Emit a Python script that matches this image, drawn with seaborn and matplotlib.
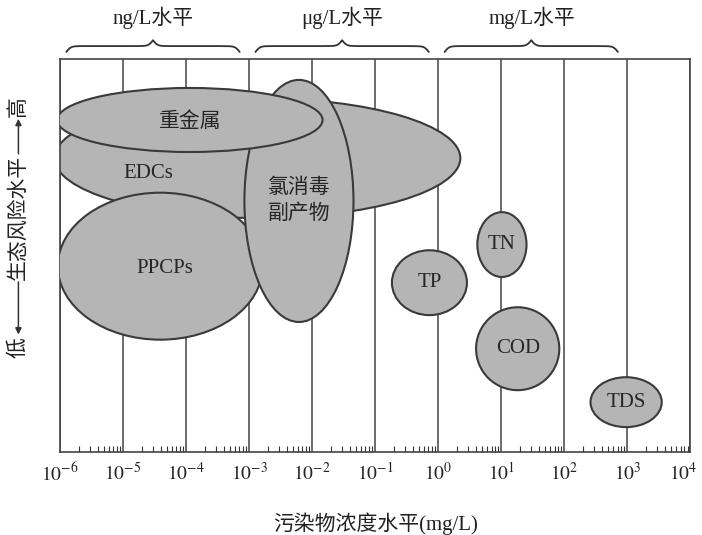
import numpy as np
import matplotlib
matplotlib.use('Agg')
import matplotlib.pyplot as plt
import matplotlib.transforms as mtransforms
from matplotlib.patches import Ellipse
import seaborn as sns

# 各类污染物: 浓度范围 (log10 mg/L 中心与跨度) 和 生态风险水平 (0-100 相对值)
names = ['EDCs', 'PPCPs', '氯消毒\n副产物', '重金属', 'TP', 'TN', 'COD', 'TDS']
conc_center = [-2.87, -4.41, -2.21, -3.94, -0.14, 1.01, 1.26, 2.98]
conc_span = [6.44, 3.25, 1.73, 4.21, 1.19, 0.78, 1.32, 1.13]
risk_center = [74.8, 47.3, 63.9, 84.5, 43.1, 52.8, 26.3, 12.7]
risk_span = [30.5, 37.4, 61.6, 16.3, 16.5, 16.5, 21.1, 12.7]

# 浓度水平分组
levels = ['ng/L水平', 'μg/L水平', 'mg/L水平']
level_lo = [-6, -3, 0]
level_hi = [-3, 0, 3]

decades = list(range(-6, 5))

sns.set_theme(style='white')
plt.rcParams['font.family'] = ['Liberation Serif', 'Noto Sans CJK SC']
plt.rcParams['mathtext.fontset'] = 'stix'

fig = plt.figure(figsize=(7.02, 5.35), dpi=100)
ax = fig.add_axes([0.0855, 0.155, 0.898, 0.7346])

edge = '#3a3a3a'
face = '#b5b5b5'

# label offsets (in data units) for the big ellipses
label_shift = {'EDCs': (-1.73, -3.8), 'PPCPs': (0.08, -0.5), '重金属': (0, -0.5)}

for i, nm in enumerate(names):
    e = Ellipse((conc_center[i], risk_center[i]), conc_span[i], risk_span[i],
                facecolor=face, edgecolor=edge, lw=1.5, zorder=2 + i)
    ax.add_patch(e)
    dx, dy = label_shift.get(nm, (0, 0))
    ax.text(conc_center[i] + dx, risk_center[i] + dy, nm, ha='center', va='center',
            fontsize=15, color='#262626', zorder=20, linespacing=1.45)

ax.set_xlim(-6, 4)
ax.set_ylim(0, 100)
ax.set_yticks([])
ax.set_xticks(decades)
ax.set_xticklabels([f'$10^{{{d}}}$' for d in decades], fontsize=14, color='#222')
minor = [d + np.log10(k) for d in decades[:-1] for k in range(2, 10)]
ax.set_xticks(minor, minor=True)
ax.tick_params(axis='x', which='major', length=0, pad=7)
ax.tick_params(axis='x', which='minor', direction='in', length=4, width=0.8,
               color='#333', bottom=True)
ax.grid(axis='x', color='#444', lw=1.1)
ax.grid(axis='y', visible=False)
ax.set_axisbelow(True)
for s in ax.spines.values():
    s.set_color('#444')
    s.set_linewidth(1.2)

# nudge last tick label so it stays inside the figure
last = ax.get_xticklabels()[-1]
last.set_transform(last.get_transform()
                   + mtransforms.ScaledTranslation(-5 / 72, 0, fig.dpi_scale_trans))

ax.set_xlabel('污染物浓度水平(mg/L)', fontsize=15, labelpad=20, color='#222')

# braces on top
trans = mtransforms.blended_transform_factory(ax.transData, ax.transAxes)


def brace(x0, x1, y0, h, b=28):
    xm = (x0 + x1) / 2
    xs = np.linspace(x0, xm, 200)
    s1 = 1 / (1 + np.exp(-b * (xs - x0)))
    s2 = 1 / (1 + np.exp(-b * (xs - xm)))
    ys = y0 + h * (s1 - 0.5) + h * s2
    xx = np.concatenate([xs, (2 * xm - xs)[::-1]])
    yy = np.concatenate([ys, ys[::-1]])
    ax.plot(xx, yy, color='#333', lw=1.3, transform=trans, clip_on=False)


for lab, lo, hi in zip(levels, level_lo, level_hi):
    brace(lo + 0.1, hi - 0.15, 1.018, 0.03)
    ax.text((lo + hi) / 2 - 0.02, 1.104, lab, transform=trans, ha='center', va='center',
            fontsize=15, color='#222')

# y label with arrows
xl = -0.066
ax.text(xl, 0.267, '低', transform=ax.transAxes, rotation=90, ha='center', va='center',
        fontsize=15, color='#222')
ax.text(xl, 0.878, '高', transform=ax.transAxes, rotation=90, ha='center', va='center',
        fontsize=15, color='#222')
ax.text(xl, 0.598, '生态风险水平', transform=ax.transAxes, rotation=90, ha='center',
        va='center', fontsize=15, color='#222')
ax.annotate('', xy=(xl, 0.292), xytext=(xl, 0.44), xycoords='axes fraction',
            arrowprops=dict(arrowstyle='-|>', color='#333', lw=1.1, mutation_scale=9),
            annotation_clip=False)
ax.annotate('', xy=(xl, 0.855), xytext=(xl, 0.752), xycoords='axes fraction',
            arrowprops=dict(arrowstyle='-|>', color='#333', lw=1.1, mutation_scale=9),
            annotation_clip=False)

fig.savefig('out.png', dpi=100)
